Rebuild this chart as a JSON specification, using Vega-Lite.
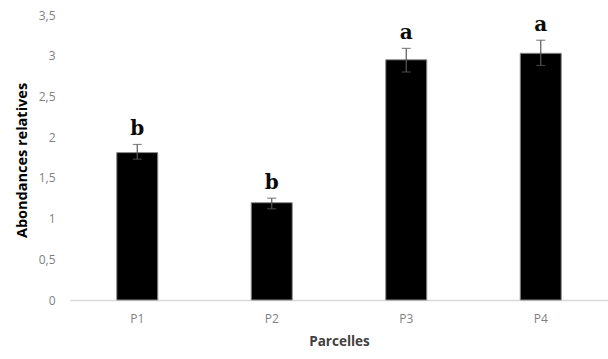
{
  "$schema": "https://vega.github.io/schema/vega-lite/v6.json",
  "autosize": {"type": "none"},
  "width": 538,
  "height": 285,
  "padding": {"left": 70, "top": 15, "right": 0, "bottom": 59},
  "background": "white",
  "config": {"view": {"stroke": null}},
  "data": {"values": [
    {"parcelle": "P1", "abondance": 1.81, "lo": 1.73, "hi": 1.91, "lettre": "b"},
    {"parcelle": "P2", "abondance": 1.195, "lo": 1.12, "hi": 1.25, "lettre": "b"},
    {"parcelle": "P3", "abondance": 2.95, "lo": 2.80, "hi": 3.09, "lettre": "a"},
    {"parcelle": "P4", "abondance": 3.03, "lo": 2.88, "hi": 3.19, "lettre": "a"}
  ]},
  "encoding": {
    "x": {
      "field": "parcelle", "type": "nominal",
      "scale": {"paddingInner": 0.695, "paddingOuter": 0.3475},
      "axis": {
        "title": "Parcelles", "titleFont": "Open Sans", "titleFontSize": 13.5, "titleFontWeight": "bold",
        "titleColor": "#404040", "titlePadding": 10,
        "labelAngle": 0, "labelFont": "Open Sans", "labelFontSize": 12, "labelColor": "#7f7f7f",
        "labelPadding": 13, "ticks": false, "domainColor": "#d9d9d9", "domainWidth": 1.5
      }
    }
  },
  "layer": [
    {
      "mark": {"type": "bar", "color": "black", "stroke": "#8c8c8c", "strokeWidth": 1},
      "encoding": {
        "y": {
          "field": "abondance", "type": "quantitative",
          "scale": {"domain": [0, 3.5], "nice": false},
          "axis": {
            "values": [0, 0.5, 1, 1.5, 2, 2.5, 3, 3.5],
            "labelExpr": "replace(format(datum.value, '~g'), '.', ',')",
            "grid": false, "domain": false, "ticks": false,
            "labelFont": "Open Sans", "labelFontSize": 12, "labelColor": "#7f7f7f", "labelPadding": 15,
            "title": "Abondances  relatives", "titleFont": "Open Sans", "titleFontSize": 14.5,
            "titleFontWeight": "bold", "titleColor": "#000000",
            "titleX": -48, "titleY": 145, "titleAngle": -90, "titleAlign": "center", "titleBaseline": "middle"
          }
        }
      }
    },
    {
      "mark": {"type": "rule", "color": "#595959", "strokeWidth": 1.2},
      "encoding": {
        "y": {"field": "lo", "type": "quantitative"},
        "y2": {"field": "hi"}
      }
    },
    {
      "mark": {"type": "tick", "color": "#595959", "thickness": 1.2, "size": 9, "orient": "horizontal"},
      "encoding": {"y": {"field": "lo", "type": "quantitative"}}
    },
    {
      "mark": {"type": "tick", "color": "#595959", "thickness": 1.2, "size": 9, "orient": "horizontal"},
      "encoding": {"y": {"field": "hi", "type": "quantitative"}}
    },
    {
      "mark": {"type": "text", "font": "DejaVu Serif", "fontSize": 20, "fontWeight": "bold", "color": "#0a0a0a", "baseline": "alphabetic", "dy": -9},
      "encoding": {
        "y": {"field": "hi", "type": "quantitative"},
        "text": {"field": "lettre"}
      }
    }
  ]
}
